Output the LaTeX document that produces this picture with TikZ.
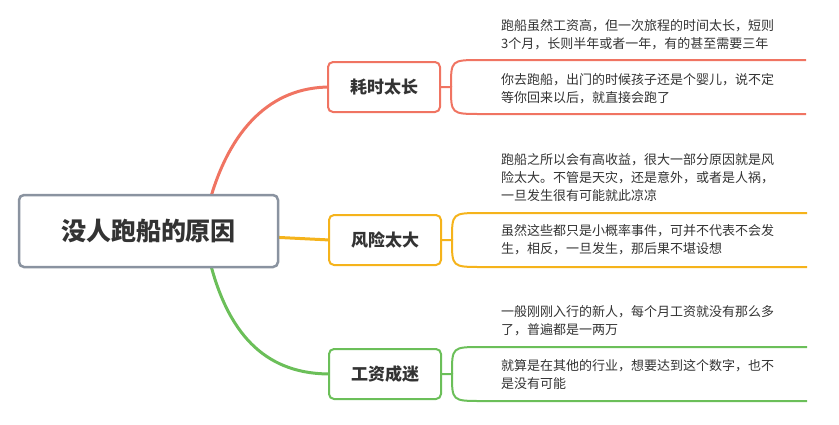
\documentclass[tikz,border=0pt]{standalone}
\usepackage{fontspec}
\setmainfont{Noto Sans CJK SC}
\usetikzlibrary{positioning}
\usetikzlibrary{calc}
\definecolor{rootgray}{HTML}{8A93A0}
\definecolor{redbr}{HTML}{F07462}
\definecolor{yellowbr}{HTML}{F5B31B}
\definecolor{greenbr}{HTML}{6BBF59}
\definecolor{txt}{HTML}{333333}
\tikzset{
  rootbox/.style={draw=rootgray, line width=2.5pt, rounded corners=5pt, fill=white,
    minimum width=259pt, minimum height=72pt, font=\fontsize{25}{28}\selectfont\bfseries, text=txt},
  topicbox/.style={draw=#1, line width=2pt, rounded corners=5pt, fill=white,
    minimum width=112pt, minimum height=50pt, font=\fontsize{17}{20}\selectfont\bfseries, text=txt},
  leaftext/.style={anchor=north west, align=left, inner sep=0pt,
    font=\fontsize{13}{18}\selectfont, text=txt},
  branch/.style={draw=#1, line width=3pt},
  leafline/.style={draw=#1, line width=2pt}
}
\newcommand{\bracket}[3]{%
  \draw[leafline=#3] (#1.east) -- ++(10pt,0) coordinate (#2s)
    .. controls ($(#2s)+(0,-27pt)$) .. ($(#2s)+(30pt,-27pt)$) -- ($(#2s)+(355pt,-27pt)$);
  \draw[leafline=#3] (#2s)
    .. controls ($(#2s)+(0,27pt)$) .. ($(#2s)+(30pt,27pt)$) -- ($(#2s)+(355pt,27pt)$);
}
\begin{document}
\begin{tikzpicture}[x=1pt, y=-1pt]
  \useasboundingbox (0,0) rectangle (839,424);
  % branches
  \draw[branch=redbr] (210,200) .. controls (230,130) and (270,87) .. (330,87);
  \draw[branch=yellowbr] (270,237) .. controls (300,238) .. (330,240);
  \draw[branch=greenbr] (210,262) .. controls (230,340) and (270,374) .. (330,374);
  % nodes
  \node[rootbox] (root) at (148.5,231) {没人跑船的原因};
  \node[topicbox=redbr] (time) at (384,87) {耗时太长};
  \node[topicbox=yellowbr] (risk) at (385,240) {风险太大};
  \node[topicbox=greenbr] (wage) at (385,374) {工资成迷};
  % leaves
  \bracket{time}{a}{redbr}
  \bracket{risk}{b}{yellowbr}
  \bracket{wage}{c}{greenbr}
  \node[leaftext] (t1) at (501,19) {跑船虽然工资高，但一次旅程的时间太长，短则\\3个月，长则半年或者一年，有的甚至需要三年};
  \node[leaftext] (t2) at (501,73) {你去跑船，出门的时候孩子还是个婴儿，说不定\\等你回来以后，就直接会跑了};
  \node[leaftext] (r1) at (501,153) {跑船之所以会有高收益，很大一部分原因就是风\\险太大。不管是天灾，还是意外，或者是人祸，\\一旦发生很有可能就此凉凉};
  \node[leaftext] (r2) at (501,224) {虽然这些都只是小概率事件，可并不代表不会发\\生，相反，一旦发生，那后果不堪设想};
  \node[leaftext] (w1) at (501,305) {一般刚刚入行的新人，每个月工资就没有那么多\\了，普遍都是一两万};
  \node[leaftext] (w2) at (501,359) {就算是在其他的行业，想要达到这个数字，也不\\是没有可能};
\end{tikzpicture}
\end{document}
